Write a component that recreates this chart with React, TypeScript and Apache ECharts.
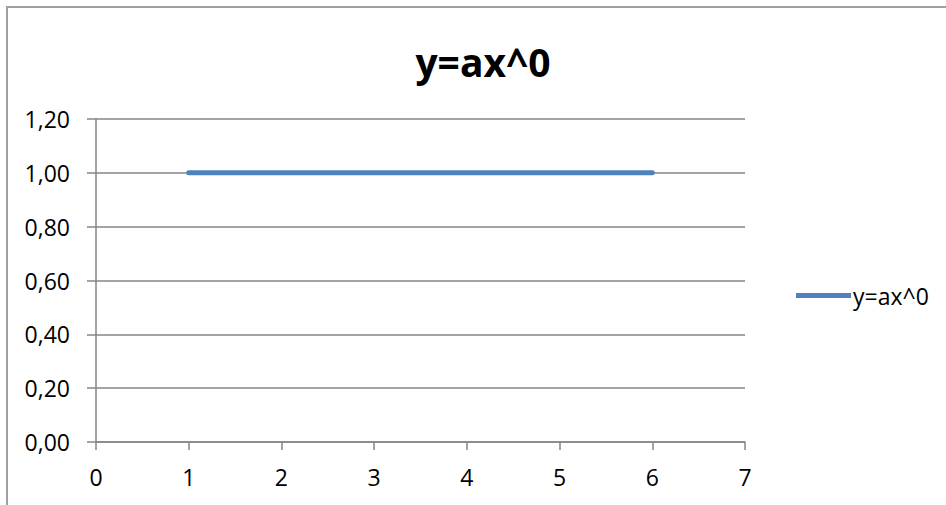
import React, { useEffect, useRef } from "react";
import * as echarts from "echarts";

const titleText = "y=ax^0";
const seriesName = "y=ax^0";
const xValues = [1, 2, 3, 4, 5, 6];
const yValues = [1, 1, 1, 1, 1, 1];

export default function App() {
  const ref = useRef<HTMLDivElement>(null);
  useEffect(() => {
    if (!ref.current) return;
    const chart = echarts.init(ref.current, undefined, { renderer: "svg" });
    const axisColor = "#868686";
    chart.setOption({
      animation: false,
      backgroundColor: "#ffffff",
      textStyle: { fontFamily: "Open Sans" },
      title: {
        text: titleText,
        left: 478,
        textAlign: "center",
        top: 37,
        textStyle: { fontFamily: "Open Sans", fontWeight: "bold", fontSize: 39, color: "#000" },
      },
      legend: {
        orient: "vertical",
        left: 791,
        top: 279,
        itemWidth: 55,
        itemHeight: 14,
        itemGap: 5,
        icon: "path://M0,0 L55,0 L55,5 L0,5 Z",
        data: [{ name: seriesName, itemStyle: { color: "#4f81bd" } }],
        textStyle: { fontFamily: "Open Sans", fontSize: 23, color: "#000", padding: [0, 0, 0, -3] },
      },
      graphic: [
        {
          type: "rect",
          shape: { x: 7, y: 7, width: 1200, height: 1200 },
          style: { fill: "none", stroke: "#a0a0a0", lineWidth: 2 },
          silent: true,
        },
      ],
      grid: { left: 96, right: 201, top: 119, bottom: 63 },
      xAxis: {
        type: "value",
        min: 0,
        max: 7,
        interval: 1,
        axisLine: { show: true, lineStyle: { color: axisColor, width: 1.5 } },
        axisTick: { show: true, inside: false, length: 8, lineStyle: { color: axisColor, width: 1.5 } },
        splitLine: { show: false },
        axisLabel: { fontFamily: "Open Sans", fontSize: 23, color: "#000", margin: 23 },
      },
      yAxis: {
        type: "value",
        min: 0,
        max: 1.2,
        interval: 0.2,
        axisLine: { show: true, lineStyle: { color: axisColor, width: 1.5 } },
        axisTick: { show: true, inside: false, length: 9, lineStyle: { color: axisColor, width: 1.5 } },
        splitLine: { show: true, lineStyle: { color: axisColor, width: 1.5 } },
        axisLabel: {
          fontFamily: "Open Sans",
          fontSize: 23,
          color: "#000",
          margin: 26,
          formatter: (v: number) => v.toFixed(2).replace(".", ","),
        },
      },
      series: [
        {
          name: seriesName,
          type: "line",
          data: xValues.map((x, i) => [x, yValues[i]]),
          showSymbol: false,
          symbol: "none",
          lineStyle: { color: "#4f81bd", width: 5, cap: "round" },
          itemStyle: { color: "#4f81bd" },
        },
      ],
    });
    return () => chart.dispose();
  }, []);
  return (
    <div
      ref={ref}
      style={{ position: "absolute", left: 0, top: 0, width: 946, height: 505 }}
    />
  );
}
